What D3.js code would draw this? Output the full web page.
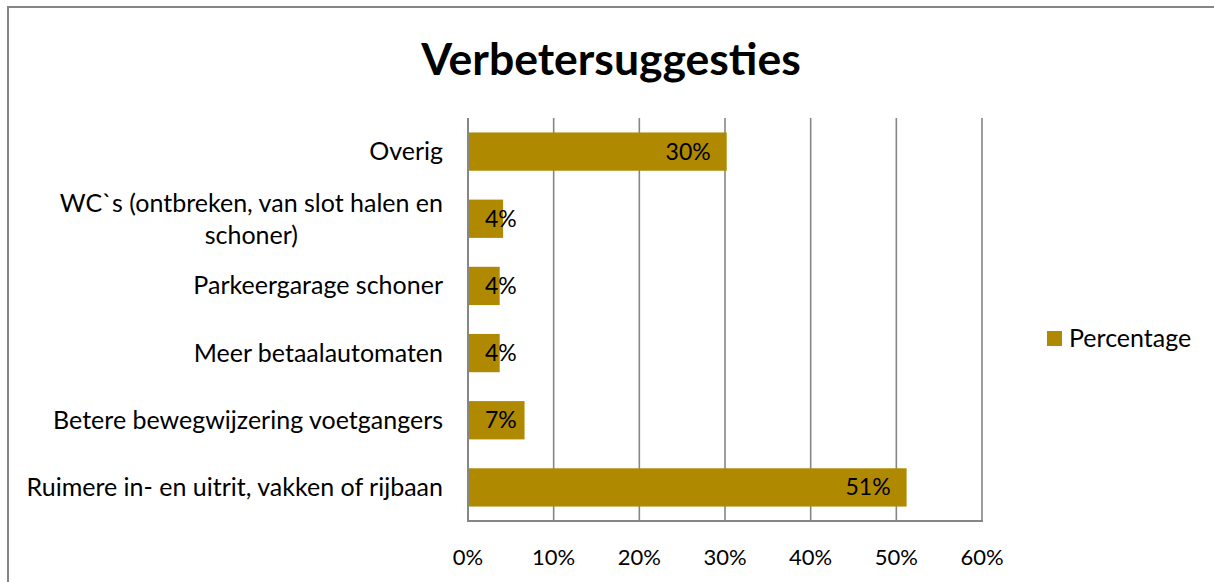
<!DOCTYPE html>
<html><head><meta charset="utf-8">
<script src="https://cdn.jsdelivr.net/npm/d3@7"></script>
<style>
html,body{margin:0;padding:0;background:#fff;}
svg{display:block;font-family:Lato,"Open Sans",sans-serif;}
</style></head>
<body><svg id="chart" width="1214" height="582"></svg>
<script>
const title = "Verbetersuggesties";
const categories = [
  "Overig",
  "WC`s (ontbreken, van slot halen en schoner)",
  "Parkeergarage schoner",
  "Meer betaalautomaten",
  "Betere bewegwijzering voetgangers",
  "Ruimere in- en uitrit, vakken of rijbaan"
];
const categoryLines = [
  ["Overig"],
  ["WC`s (ontbreken, van slot halen en", "schoner)"],
  ["Parkeergarage schoner"],
  ["Meer betaalautomaten"],
  ["Betere bewegwijzering voetgangers"],
  ["Ruimere in- en uitrit, vakken of rijbaan"]
];
const values = [0.302, 0.041, 0.037, 0.037, 0.066, 0.512];
const xTicks = [0, 0.1, 0.2, 0.3, 0.4, 0.5, 0.6];
const seriesName = "Percentage";

const barColor = "#AF8900";
const gridColor = "#868686";
const svg = d3.select("#chart");

// outer frame (top and left visible)
svg.append("line").attr("x1", 8).attr("x2", 1214).attr("y1", 7).attr("y2", 7)
  .attr("stroke", gridColor).attr("stroke-width", 2);
svg.append("line").attr("x1", 8).attr("x2", 8).attr("y1", 6).attr("y2", 582)
  .attr("stroke", gridColor).attr("stroke-width", 2);

const plot = {left: 468, right: 982, top: 118, bottom: 521};
const x = d3.scaleLinear().domain([0, 0.6]).range([plot.left, plot.right]);
const y = d3.scaleBand().domain(categories).range([plot.top, plot.bottom])
  .paddingInner(0.43).paddingOuter(0.215);

// title
svg.append("text").attr("x", 611).attr("y", 75).attr("text-anchor", "middle")
  .attr("font-size", 44.5).attr("font-weight", "bold").attr("fill", "#000").text(title);

// gridlines
svg.append("g").selectAll("line").data(xTicks.slice(1)).join("line")
  .attr("x1", d => x(d)).attr("x2", d => x(d))
  .attr("y1", plot.top).attr("y2", plot.bottom)
  .attr("stroke", gridColor).attr("stroke-width", 1.6);

// bars
svg.append("g").selectAll("rect").data(values).join("rect")
  .attr("x", x(0)).attr("y", (d, i) => y(categories[i]))
  .attr("width", d => x(d) - x(0)).attr("height", y.bandwidth())
  .attr("fill", barColor);

// axes lines
svg.append("line").attr("x1", x(0)).attr("x2", x(0)).attr("y1", plot.top).attr("y2", plot.bottom + 1)
  .attr("stroke", gridColor).attr("stroke-width", 2);
svg.append("line").attr("x1", x(0) - 1).attr("x2", plot.right + 1).attr("y1", plot.bottom).attr("y2", plot.bottom)
  .attr("stroke", gridColor).attr("stroke-width", 2);

// x tick labels
const fmt = d3.format(".0%");
svg.append("g").selectAll("text").data(xTicks).join("text")
  .attr("x", d => x(d)).attr("y", 565).attr("text-anchor", "middle")
  .attr("font-size", 22).attr("fill", "#000").text(d => fmt(d));

// category labels
const catFs = 25;
const catG = svg.append("g");
categoryLines.forEach((lines, i) => {
  const cy = y(categories[i]) + y.bandwidth() / 2;
  if (lines.length === 1) {
    catG.append("text").attr("x", 443).attr("y", cy + 8.5).attr("text-anchor", "end")
      .attr("font-size", catFs).attr("fill", "#000").text(lines[0]);
  } else {
    const t1 = catG.append("text").attr("y", cy - 15 + 8.5).attr("font-size", catFs)
      .attr("fill", "#000").attr("text-anchor", "middle").text(lines[0]);
    const w = t1.node().getComputedTextLength();
    const cx = 443 - w / 2;
    t1.attr("x", cx);
    catG.append("text").attr("x", cx).attr("y", cy + 17 + 8.5).attr("font-size", catFs)
      .attr("fill", "#000").attr("text-anchor", "middle").text(lines[1]);
  }
});

// value labels
const labG = svg.append("g");
values.forEach((v, i) => {
  const cy = y(categories[i]) + y.bandwidth() / 2;
  const t = labG.append("text").attr("y", cy + 8).attr("font-size", 23)
    .attr("fill", "#000").text(fmt(v));
  const w = t.node().getComputedTextLength();
  const endX = Math.max(x(v) - 16, x(0) + 17 + w);
  t.attr("x", endX).attr("text-anchor", "end");
});

// legend
svg.append("rect").attr("x", 1047).attr("y", 331).attr("width", 15).attr("height", 15).attr("fill", barColor);
svg.append("text").attr("x", 1069).attr("y", 347).attr("font-size", 25).attr("fill", "#000").text(seriesName);
</script></body></html>
